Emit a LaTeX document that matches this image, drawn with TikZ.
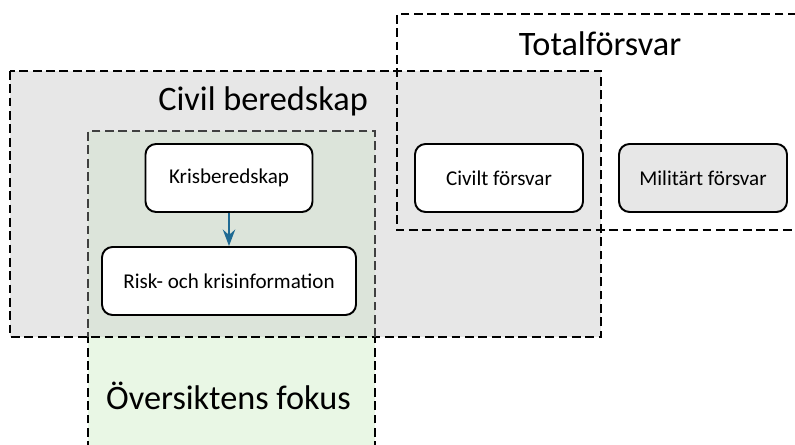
\documentclass[tikz,border=0pt]{standalone}
\usepackage{fontspec}
\setmainfont{Carlito}
\usepackage{tikz}
\usetikzlibrary{positioning, arrows.meta}
\definecolor{zonegray}{HTML}{E7E7E7}
\definecolor{zonegreen}{HTML}{E9F7E5}
\definecolor{zonemix}{HTML}{DCE4DA}
\definecolor{arrowblue}{HTML}{1F6A93}

\begin{document}
\begin{tikzpicture}[x=0.02cm, y=-0.02cm, >=Stealth,
    zone/.style={line width=1.6pt, dash pattern=on 5pt off 2.6pt},
    areabox/.style={draw, line width=1.1pt, rounded corners=6pt, fill=white,
        minimum height=68*0.02cm, font=\fontsize{12}{14}\selectfont},
    areatitle/.style={font=\fontsize{19.5}{22}\selectfont}]
    \useasboundingbox (0,0) rectangle (795,445);

    % fills
    \fill[zonegreen] (88,131) rectangle (375,450);
    \fill[zonegray] (10,71) rectangle (601,337);
    \fill[zonemix] (88,131) rectangle (375,337);

    % dashed zones
    \draw[zone] (810,14) -| (397,230) -- (810,230);
    \draw[zone] (10,71) rectangle (601,337);
    \draw[zone, black!75] (375,337) |- (88,131) -- (88,337);
    \draw[zone] (88,450) -- (88,337);
    \draw[zone] (375,450) -- (375,337);

    \node[areatitle] (total) at (600,44) {Totalförsvar};
    \node[areatitle, anchor=east] (civil) at (374,101) {Civil beredskap};
    \node[areatitle, anchor=west] (fokus) at (100,396) {Översiktens fokus};

    % boxes
    \node[areabox, minimum width=167*0.02cm] (kris) at (229,178) {Krisberedskap};
    \node[areabox, minimum width=254*0.02cm] (risk) at (229,281) {Risk- och krisinformation};
    \node[areabox, minimum width=168*0.02cm] (civf) at (499,178) {Civilt försvar};
    \node[areabox, minimum width=168*0.02cm, fill=zonegray] (milf) at (703,178) {Militärt försvar};

    \draw[->, arrowblue, line width=1.4pt] (kris) -- (risk);
\end{tikzpicture}
\end{document}
